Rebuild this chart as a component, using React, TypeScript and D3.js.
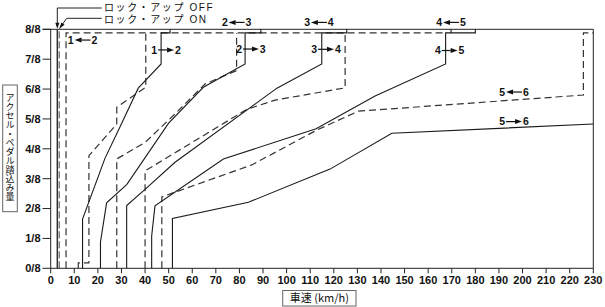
import React from 'react';
import * as d3 from 'd3';

const W = 605;
const H = 307;

// axes
const speedTicks = d3.range(0, 231, 10);
const throttleTicks = [0, 1, 2, 3, 4, 5, 6, 7, 8];
const throttleLabels = ['0/8', '1/8', '2/8', '3/8', '4/8', '5/8', '6/8', '7/8', '8/8'];

// upshift lines (solid): [km/h, throttle eighths]
const up12: [number, number][] = [[13.5, 0], [13.5, 1.65], [23.0, 3.68], [29.4, 4.74], [37.1, 6.03], [46.8, 6.84], [46.8, 7.88], [50.6, 7.88], [50.6, 8]];
const up23: [number, number][] = [[21.1, 0], [21.1, 0.88], [23.7, 2.19], [32.3, 2.81], [49.9, 4.85], [64.7, 6.06], [82.4, 6.84], [82.4, 7.88], [89.1, 7.88], [89.1, 8]];
const up34: [number, number][] = [[32.2, 0], [32.2, 2.1], [40.0, 2.64], [52.7, 3.55], [95.9, 6.03], [114.9, 6.84], [114.9, 7.88], [125.5, 7.88], [125.5, 8]];
const up45: [number, number][] = [[42.8, 0], [42.8, 1.08], [44.2, 2.09], [73.2, 3.66], [112.5, 4.67], [137.5, 5.77], [167.4, 6.84], [167.4, 7.88], [180.0, 7.88], [180.0, 8]];
const up45Tick: [number, number][] = [[169.7, 7.88], [169.7, 8]];
const up56: [number, number][] = [[51.6, 0], [51.6, 1.67], [83.8, 2.21], [118.4, 3.32], [144.6, 4.52], [230, 4.83]];

// downshift lines (dashed)
const down12: [number, number][] = [[11.7, 0], [11.7, 0.18], [16.2, 0.18], [16.2, 3.77], [28.0, 4.83], [28.0, 5.39], [40.3, 6.06], [40.3, 7.88]];
const down23: [number, number][] = [[28.0, 0], [28.0, 3.66], [40.0, 4.21], [53.1, 5.2], [65.4, 6.17], [78.8, 6.62], [78.8, 7.88]];
const down34: [number, number][] = [[40.0, 0], [40.0, 3.26], [83.1, 5.32], [95.1, 5.63], [124.8, 6.04], [124.8, 7.88]];
const down56: [number, number][] = [[47.1, 0], [47.1, 2.39], [85.2, 3.46], [112.9, 4.63], [130.4, 5.26], [225.8, 5.8], [225.8, 7.88], [230, 7.88]];
const kickdownTop: [number, number][] = [[6.5, 0], [6.5, 7.88], [167.4, 7.88]];

// lock-up lines
const lockupOff: [number, number][] = [[2.8, 0], [2.8, 8]];
const lockupOn: [number, number][] = [[3.6, 0], [3.6, 8]];

// shift labels: from, to, direction ('up' = →, 'down' = ←), anchor [km/h, eighths]
const labelFrom = ['1', '1', '2', '2', '3', '3', '4', '4', '5', '5'];
const labelTo = ['2', '2', '3', '3', '4', '4', '5', '5', '6', '6'];
const labelDir = ['down', 'up', 'down', 'up', 'down', 'up', 'down', 'up', 'down', 'up'];
const labelAt: [number, number][] = [[13.5, 7.64], [48.9, 7.31], [78.8, 8.23], [84.9, 7.34], [113.7, 8.23], [116.7, 7.33], [169.7, 8.23], [169.1, 7.29], [196.4, 5.9], [196.4, 4.91]];

const legendOff = 'ロック・アップ OFF';
const legendOn = 'ロック・アップ ON';
const xTitle = '車速 (km/h)';
const yTitle = 'アクセル・ペダル踏込み量';

const x = d3.scaleLinear().domain([0, 230]).range([50.7, 593.3]);
const y = d3.scaleLinear().domain([0, 8]).range([268.3, 29.3]);
const line = d3.line<[number, number]>().x((d) => x(d[0])).y((d) => y(d[1]));

const SOLID = '#1a1a1a';
const DASH = '#333';
const LATIN = '"Liberation Sans", Arial, sans-serif';
const CJK = '"Noto Sans CJK JP", "Noto Sans", sans-serif';
const LEGEND_FONT = '"Liberation Sans", "Noto Sans CJK JP", sans-serif';

function ArrowLabel({ cx, cy, a, b, dir }: { cx: number; cy: number; a: string; b: string; dir: string }) {
  const half = 8;
  const head = 7;
  const hw = 2.5;
  let shaft: string;
  let tri: string;
  if (dir === 'down') {
    tri = `${cx - half},${cy} ${cx - half + head},${cy - hw} ${cx - half + head},${cy + hw}`;
    shaft = `M${cx - half + head},${cy}H${cx + half}`;
  } else {
    tri = `${cx + half},${cy} ${cx + half - head},${cy - hw} ${cx + half - head},${cy + hw}`;
    shaft = `M${cx - half},${cy}H${cx + half - head}`;
  }
  return (
    <g>
      <text x={cx - 11.8} y={cy} dy="0.35em" textAnchor="middle" fontSize={10.5} fontWeight="bold" fontFamily={LATIN} fill="#111">{a}</text>
      <path d={shaft} stroke="#111" strokeWidth={1.2} fill="none" />
      <polygon points={tri} fill="#111" />
      <text x={cx + 11.8} y={cy} dy="0.35em" textAnchor="middle" fontSize={10.5} fontWeight="bold" fontFamily={LATIN} fill="#111">{b}</text>
    </g>
  );
}

function arrowHead(fromX: number, fromY: number, tipX: number, tipY: number, len = 6, hw = 2) {
  const dx = tipX - fromX;
  const dy = tipY - fromY;
  const L = Math.hypot(dx, dy);
  const ux = dx / L;
  const uy = dy / L;
  const bx = tipX - ux * len;
  const by = tipY - uy * len;
  const px = -uy;
  const py = ux;
  return `${tipX},${tipY} ${bx + px * hw},${by + py * hw} ${bx - px * hw},${by - py * hw}`;
}

export default function App() {
  const solids = [up12, up23, up34, up45, up45Tick, up56];
  const dashes = [down12, down23, down34, down56, kickdownTop];
  const x0 = x(0);
  const x1 = x(230);
  const yTop = y(8);
  const yBot = y(0);
  const offX = x(lockupOff[0][0]);
  const onX = x(lockupOn[0][0]);
  return (
    <svg width={W} height={H} viewBox={`0 0 ${W} ${H}`} style={{ position: 'absolute', left: 0, top: 0, background: 'white' }}>
      <rect x={0} y={0} width={W} height={H} fill="white" />
      {/* frame */}
      <path d={`M${x0 - 8.2},${yTop}H${x1}V${yBot}H${x0}V${yTop}`} stroke="#222" strokeWidth={1} fill="none" />
      {/* y ticks */}
      {throttleTicks.map((t, i) => (
        <g key={'yt' + i}>
          <line x1={x0 - 8.2} x2={x0} y1={y(t)} y2={y(t)} stroke="#222" strokeWidth={1} />
          <text x={40.5} y={y(t)} dy="0.35em" textAnchor="end" fontSize={11} fontWeight="bold" fontFamily={LATIN} fill="#111">{throttleLabels[i]}</text>
        </g>
      ))}
      {/* x ticks */}
      {speedTicks.map((v) => (
        <g key={'xt' + v}>
          <line x1={x(v)} x2={x(v)} y1={yBot} y2={yBot + 5} stroke="#222" strokeWidth={1} />
          <text x={x(v)} y={280.5} dy="0.35em" textAnchor="middle" fontSize={11} fontWeight="bold" fontFamily={LATIN} fill="#111">{v}</text>
        </g>
      ))}
      {/* lock-up lines */}
      <path d={line(lockupOff) || ''} stroke="#333" strokeWidth={1.5} fill="none" />
      <path d={line(lockupOn) || ''} stroke="#444" strokeWidth={1} strokeDasharray="7,3" fill="none" />
      {/* dashed downshift lines */}
      {dashes.map((d, i) => (
        <path key={'d' + i} d={line(d) || ''} stroke={DASH} strokeWidth={1.2} strokeDasharray="7,4" fill="none" />
      ))}
      {/* solid upshift lines */}
      {solids.map((d, i) => (
        <path key={'s' + i} d={line(d) || ''} stroke={SOLID} strokeWidth={1.1} fill="none" />
      ))}
      {/* shift labels */}
      {labelAt.map((p, i) => (
        <ArrowLabel key={'l' + i} cx={x(p[0])} cy={y(p[1])} a={labelFrom[i]} b={labelTo[i]} dir={labelDir[i]} />
      ))}
      {/* legend */}
      <path d={`M101.7,8H${offX}V${yTop - 5}`} stroke="#222" strokeWidth={1} fill="none" />
      <polygon points={arrowHead(offX, 8, offX, yTop - 0.5)} fill="#111" />
      <path d={`M101.7,18.3H66.7L${onX + 0.3},${yTop - 0.8}`} stroke="#222" strokeWidth={1} fill="none" />
      <polygon points={arrowHead(66.7, 18.3, onX + 0.3, yTop - 0.8)} fill="#111" />
      <text x={104} y={7.4} dy="0.35em" fontSize={10} letterSpacing={1.6} fontFamily={LEGEND_FONT} fill="#111">{legendOff}</text>
      <text x={104} y={19} dy="0.35em" fontSize={10} letterSpacing={1.6} fontFamily={LEGEND_FONT} fill="#111">{legendOn}</text>
      {/* x title */}
      <rect x={282.7} y={290.5} width={73.3} height={15.5} fill="white" stroke="#666" strokeWidth={1} />
      <text x={319.3} y={298.3} dy="0.35em" textAnchor="middle" fontSize={11} fontFamily={CJK} fill="#111">{xTitle}</text>
      {/* y title */}
      <rect x={2.7} y={85} width={14.6} height={126.7} fill="white" stroke="#666" strokeWidth={1} />
      <text x={10} y={147.5} textAnchor="middle" fontSize={9} fontFamily={CJK} fill="#111"
        style={{ writingMode: 'vertical-rl', textOrientation: 'upright' } as React.CSSProperties}>{yTitle}</text>
    </svg>
  );
}
